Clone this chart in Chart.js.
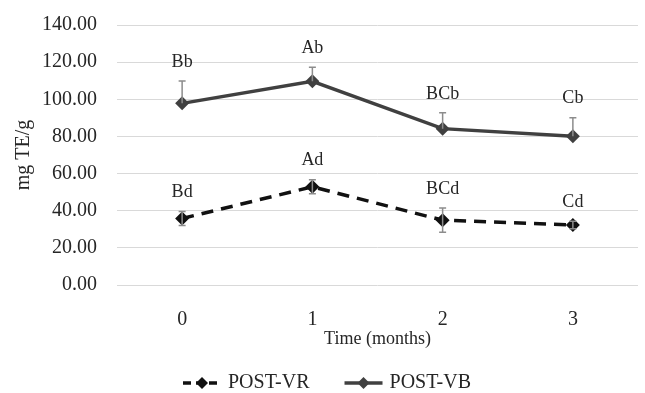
<!DOCTYPE html>
<html>
<head>
<meta charset="utf-8">
<script src="https://cdn.jsdelivr.net/npm/chart.js@4"></script>
<style>
  html, body { margin: 0; padding: 0; background: #fff; }
  #wrap { width: 645px; height: 393px; }
</style>
</head>
<body>
<div id="wrap"><canvas id="myChart"></canvas></div>
<script>
const months = ["0", "1", "2", "3"];
const vrValues = [35.8, 52.9, 34.9, 32.3];
const vrErrors = [3.8, 3.8, 6.5, 2.0];
const vrLetters = ["Bd", "Ad", "BCd", "Cd"];
const vbValues = [97.8, 109.7, 84.2, 80.1];
const vbErrors = [12.0, 7.5, 8.5, 10.0];
const vbLetters = ["Bb", "Ab", "BCb", "Cb"];
const yTicks = [0, 20, 40, 60, 80, 100, 120, 140];

const serif = "'Liberation Serif', 'DejaVu Serif', serif";
const textColor = "#262626";

// error bars + letters above each point
const errorBars = {
  id: "errorBars",
  afterDatasetsDraw(chart) {
    const c = chart.ctx;
    const y = chart.scales.y;
    const sets = [
      { idx: 0, err: vrErrors, letters: vrLetters, both: true },
      { idx: 1, err: vbErrors, letters: vbLetters, both: false }
    ];
    sets.forEach((s) => {
      const meta = chart.getDatasetMeta(s.idx);
      const vals = chart.data.datasets[s.idx].data;
      meta.data.forEach((pt, i) => {
        const top = y.getPixelForValue(vals[i] + s.err[i]);
        const bot = s.both ? y.getPixelForValue(vals[i] - s.err[i]) : pt.y;
        c.save();
        c.strokeStyle = "#8c8c8c";
        c.lineWidth = 1.5;
        c.beginPath();
        c.moveTo(pt.x, top);
        c.lineTo(pt.x, bot);
        c.moveTo(pt.x - 3.5, top);
        c.lineTo(pt.x + 3.5, top);
        if (s.both) {
          c.moveTo(pt.x - 3.5, bot);
          c.lineTo(pt.x + 3.5, bot);
        }
        c.stroke();
        c.fillStyle = textColor;
        c.font = "18px " + serif;
        c.textAlign = "center";
        c.textBaseline = "middle";
        c.fillText(s.letters[i], pt.x, top - 19);
        c.restore();
      });
    });
  }
};

// legend drawn by hand so the spacing matches
const customLegend = {
  id: "customLegend",
  afterDraw(chart) {
    const c = chart.ctx;
    const cy = 383;
    let x = 183;
    c.save();
    c.font = "20px " + serif;
    c.textBaseline = "middle";
    chart.data.datasets.forEach((ds) => {
      c.strokeStyle = ds.borderColor;
      c.lineWidth = 3.5;
      c.setLineDash(ds.borderDash ? [8, 5] : []);
      c.beginPath();
      c.moveTo(x, cy);
      c.lineTo(x + 38, cy);
      c.stroke();
      c.setLineDash([]);
      c.fillStyle = ds.borderColor;
      c.beginPath();
      c.moveTo(x + 19, cy - 6);
      c.lineTo(x + 25, cy);
      c.lineTo(x + 19, cy + 6);
      c.lineTo(x + 13, cy);
      c.closePath();
      c.fill();
      c.fillStyle = textColor;
      c.fillText(ds.label, x + 45, cy);
      x += 45 + c.measureText(ds.label).width + 35;
    });
    c.restore();
  }
};

const ctx = document.getElementById("myChart");
new Chart(ctx, {
  type: "line",
  data: {
    labels: months,
    datasets: [{
      label: "POST-VR",
      data: vrValues,
      borderColor: "#111111",
      backgroundColor: "#111111",
      borderWidth: 3.5,
      borderDash: [12, 8],
      pointStyle: "rectRot",
      pointRadius: 7,
      pointHoverRadius: 7,
      pointBorderWidth: 0
    }, {
      label: "POST-VB",
      data: vbValues,
      borderColor: "#404040",
      backgroundColor: "#404040",
      borderWidth: 3.5,
      pointStyle: "rectRot",
      pointRadius: 7,
      pointHoverRadius: 7,
      pointBorderWidth: 0
    }]
  },
  options: {
    responsive: true,
    maintainAspectRatio: false,
    animation: false,
    layout: { padding: { top: 25, right: -7, bottom: 40, left: 0 } },
    plugins: {
      legend: { display: false },
      tooltip: { enabled: false }
    },
    scales: {
      x: {
        offset: true,
        grid: { display: false },
        border: { display: false },
        ticks: { color: textColor, font: { family: serif, size: 20 }, padding: 15 },
        title: {
          display: true,
          text: "Time (months)",
          color: textColor,
          font: { family: serif, size: 18 },
          padding: { top: 0, bottom: 3 }
        },
        afterFit: (s) => {
          s.height = 68;
          s.paddingLeft = 0;
          s.paddingRight = 0;
        }
      },
      y: {
        min: 0,
        max: 140,
        afterBuildTicks: (s) => { s.ticks = yTicks.map((v) => ({ value: v })); },
        grid: { color: "#d9d9d9", lineWidth: 1, drawTicks: false },
        border: { display: false },
        ticks: {
          color: textColor,
          font: { family: serif, size: 20 },
          padding: 20,
          callback: (v) => Number(v).toFixed(2)
        },
        title: {
          display: true,
          text: "mg TE/g",
          color: textColor,
          font: { family: serif, size: 20 },
          padding: { top: 12, bottom: 0 }
        },
        afterFit: (s) => {
          s.width = 117;
          s.paddingTop = 0;
          s.paddingBottom = 0;
        }
      }
    }
  },
  plugins: [errorBars, customLegend]
});
</script>
</body>
</html>
